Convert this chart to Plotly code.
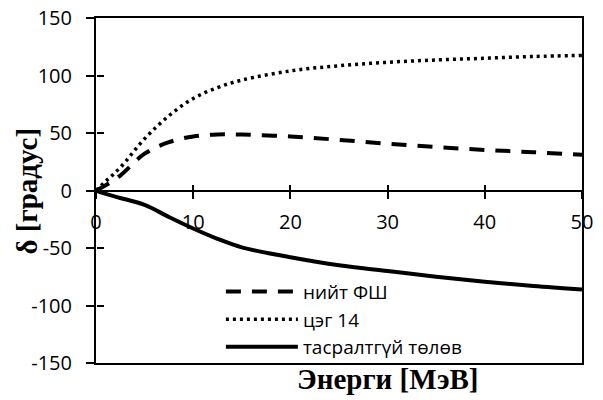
import plotly.graph_objects as go

# Phase shift vs. energy for three approaches
energy = [0, 1, 2.5, 5, 7.5, 10, 12.5, 15, 20, 25, 30, 35, 40, 45, 50]
niit_fsh = [0, 4.5, 13, 32, 42, 47, 48.8, 48.6, 47, 44, 40.7, 37.8, 35.3, 33.3, 31]
tseg_14 = [0, 8, 20, 45, 65, 80, 89.5, 96, 104, 108.5, 111.5, 113.5, 115, 116.5, 117.5]
tasraltgui = [0, -3, -6.5, -12.5, -23, -33, -42, -49.5, -58, -65, -70, -75, -79.3, -83, -86]

series_names = ["нийт ФШ", "цэг 14", "тасралтгүй төлөв"]
x_ticks = [0, 10, 20, 30, 40, 50]
y_ticks = [-150, -100, -50, 0, 50, 100, 150]
y_tick_text = ["-150", "-100", "-50", "0", "50", "100", "150"]
x_title = "Энерги [МэВ]"
y_title = "δ [градус]"

XR = [0, 50]
YR = [-150, 150]
sans = "Open Sans"
serif = "Liberation Serif"

fig = go.Figure()
# each curve sits on its own overlaid axis pair so every helper axis is drawn
fig.add_trace(go.Scatter(x=energy, y=niit_fsh, name=series_names[0], mode="lines",
                         xaxis="x", yaxis="y",
                         line=dict(color="black", width=4, dash="15px,11px", shape="spline")))
fig.add_trace(go.Scatter(x=energy, y=tseg_14, name=series_names[1], mode="lines",
                         xaxis="x2", yaxis="y",
                         line=dict(color="black", width=3.5, dash="3px,4px", shape="spline")))
fig.add_trace(go.Scatter(x=energy, y=tasraltgui, name=series_names[2], mode="lines",
                         xaxis="x3", yaxis="y2",
                         line=dict(color="black", width=4, shape="spline")))

tick_font = dict(family=sans, size=20, color="black")
title_font = dict(family=serif, color="black", weight="bold")

fig.update_layout(
    width=603, height=400,
    margin=dict(l=96, r=21, t=18, b=37),
    paper_bgcolor="white", plot_bgcolor="white",
    showlegend=True,
    legend=dict(x=0.257, y=0.262, xanchor="left", yanchor="top",
                font=dict(family=sans, size=19, color="black"),
                bgcolor="rgba(0,0,0,0)", itemwidth=72, tracegroupgap=0),
    # x axis crossing at y = 0, ticks pointing down, labels below
    xaxis=dict(range=XR, tickvals=x_ticks, ticks="outside", ticklen=7, tickwidth=2,
               tickcolor="black", showline=True, linecolor="black", linewidth=2,
               showgrid=False, zeroline=False, anchor="free", position=0.5,
               tickfont=tick_font, ticklabelstandoff=6, automargin=False),
    # bottom/top frame
    xaxis2=dict(range=XR, showticklabels=False, ticks="", showline=True, mirror=True,
                linecolor="black", linewidth=2, showgrid=False, zeroline=False,
                overlaying="x", anchor="y", side="bottom", automargin=False),
    # upward half of the crossing x ticks
    xaxis3=dict(range=XR, tickvals=x_ticks, ticks="inside", ticklen=6, tickwidth=2,
                tickcolor="black", showticklabels=False, showline=False, showgrid=False,
                zeroline=False, overlaying="x", anchor="free", position=0.5,
                automargin=False),
    yaxis=dict(range=YR, tickvals=y_ticks, ticktext=y_tick_text, ticks="outside",
               ticklen=8, tickwidth=2, tickcolor="black", showline=True, mirror=True,
               linecolor="black", linewidth=2, showgrid=False, zeroline=False,
               tickfont=tick_font, ticklabelstandoff=10, automargin=False),
    # inward half of the crossing y ticks
    yaxis2=dict(range=YR, tickvals=y_ticks, ticks="inside", ticklen=7, tickwidth=2,
                tickcolor="black", showticklabels=False, showline=False, showgrid=False,
                zeroline=False, overlaying="y", anchor="free", position=0, side="left",
                automargin=False),
    annotations=[
        dict(text=x_title, xref="paper", yref="paper", x=0.6, y=-0.047,
             xanchor="center", yanchor="middle", showarrow=False,
             font=dict(size=29, **title_font)),
        dict(text=y_title, xref="paper", yref="paper", x=-0.142, y=0.5,
             xanchor="center", yanchor="middle", showarrow=False, textangle=-90,
             font=dict(size=29, **title_font)),
    ],
)

fig.write_html("out.html")
